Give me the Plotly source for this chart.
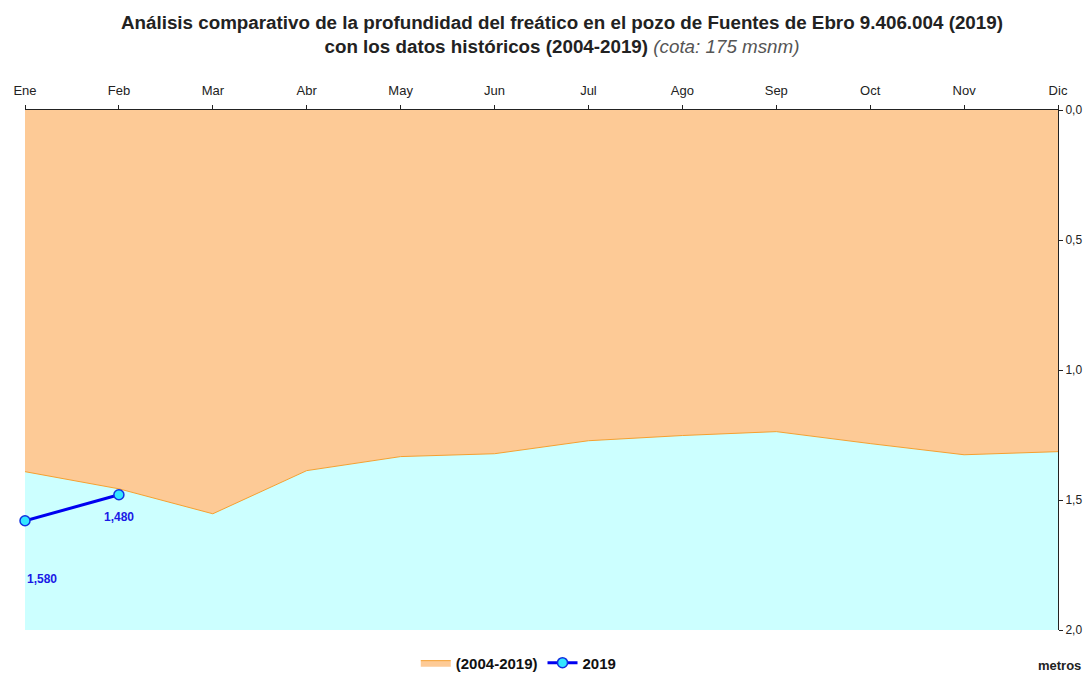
import plotly.graph_objects as go

# ── Data ─────────────────────────────────────────────────────────────────────
months = ["Ene", "Feb", "Mar", "Abr", "May", "Jun",
          "Jul", "Ago", "Sep", "Oct", "Nov", "Dic"]

# historical (2004-2019) depth boundary, metres
hist_depth = [1.391, 1.457, 1.553, 1.387, 1.333, 1.322,
              1.272, 1.252, 1.237, 1.283, 1.326, 1.314]

# 2019 measurements
y2019_months = ["Ene", "Feb"]
y2019_depth = [1.580, 1.480]

FONT = "Liberation Sans, Arial"

fig = go.Figure()

# ── Historical band (orange above the boundary, cyan is plot bg) ─────────────
fig.add_trace(go.Scatter(
    x=[months.index(m) for m in months], y=hist_depth,
    name="<b>(2004-2019)</b>", mode="lines",
    line=dict(color="#F5A030", width=1),
    fill="tozeroy", fillcolor="#FDCA96",
))

# ── 2019 series ──────────────────────────────────────────────────────────────
fig.add_trace(go.Scatter(
    x=[months.index(m) for m in y2019_months], y=y2019_depth,
    name="<b>2019</b>", mode="lines+markers", cliponaxis=False,
    line=dict(color="#0000F0", width=3),
    marker=dict(size=10, color="#33E6FF", line=dict(color="#1030E0", width=1.5)),
))

# value labels
label_shift = [-58, -22]
for m, v, s in zip(y2019_months, y2019_depth, label_shift):
    fig.add_annotation(
        x=months.index(m), y=v, text=f"<b>{v:.3f}</b>".replace(".", ","),
        showarrow=False, yshift=s, xshift=17 if m == "Ene" else 0,
        font=dict(family=FONT, size=12, color="#1A1AE6"),
    )

# ── Title / axis caption ─────────────────────────────────────────────────────
fig.add_annotation(
    xref="paper", yref="paper", x=0.52, y=1.0, yshift=76, yanchor="middle",
    text=("<b>Análisis comparativo de la profundidad del freático en el pozo de "
          "Fuentes de Ebro 9.406.004 (2019)</b><br><b>con los datos históricos "
          "(2004-2019)</b> <i><span style='color:#555555'>(cota: 175 msnm)</span></i>"),
    showarrow=False,
    font=dict(family=FONT, size=18.8, color="#222222"),
)
fig.add_annotation(
    xref="paper", yref="paper", x=1.0, y=0, yshift=-45, xshift=25, xanchor="right",
    text="<b>metros</b>", showarrow=False,
    font=dict(family=FONT, size=13, color="#222222"),
)

# ── Layout ───────────────────────────────────────────────────────────────────
fig.update_layout(
    width=1091, height=673,
    margin=dict(l=25, r=33, t=110, b=43, autoexpand=False),
    paper_bgcolor="white",
    plot_bgcolor="#CCFFFF",
    font=dict(family=FONT, size=13, color="#222222"),
    showlegend=True,
    legend=dict(
        orientation="h", x=0.478, xanchor="center",
        yref="container", y=0.015, yanchor="middle",
        font=dict(size=15, color="#111111"),
    ),
    xaxis=dict(
        side="top", range=[0, 11], showgrid=False, automargin=False,
        tickmode="array", tickvals=list(range(12)), ticktext=months,
        showline=True, linecolor="#222222", linewidth=1,
        ticks="outside", ticklen=4, tickcolor="#222222",
        ticklabelstandoff=5,
        tickfont=dict(size=13), zeroline=False,
    ),
    yaxis=dict(
        side="right", range=[2.0, 0.0], showgrid=False, automargin=False,
        tickvals=[0, 0.5, 1.0, 1.5, 2.0],
        ticktext=[f"{v:.1f}".replace(".", ",") for v in [0, 0.5, 1.0, 1.5, 2.0]],
        showline=True, linecolor="#222222", linewidth=1,
        ticks="outside", ticklen=4, tickcolor="#222222",
        tickfont=dict(size=12), zeroline=False,
    ),
)

fig.write_html("out.html", config={"displayModeBar": False},
               post_script="document.body.style.margin='0';")
